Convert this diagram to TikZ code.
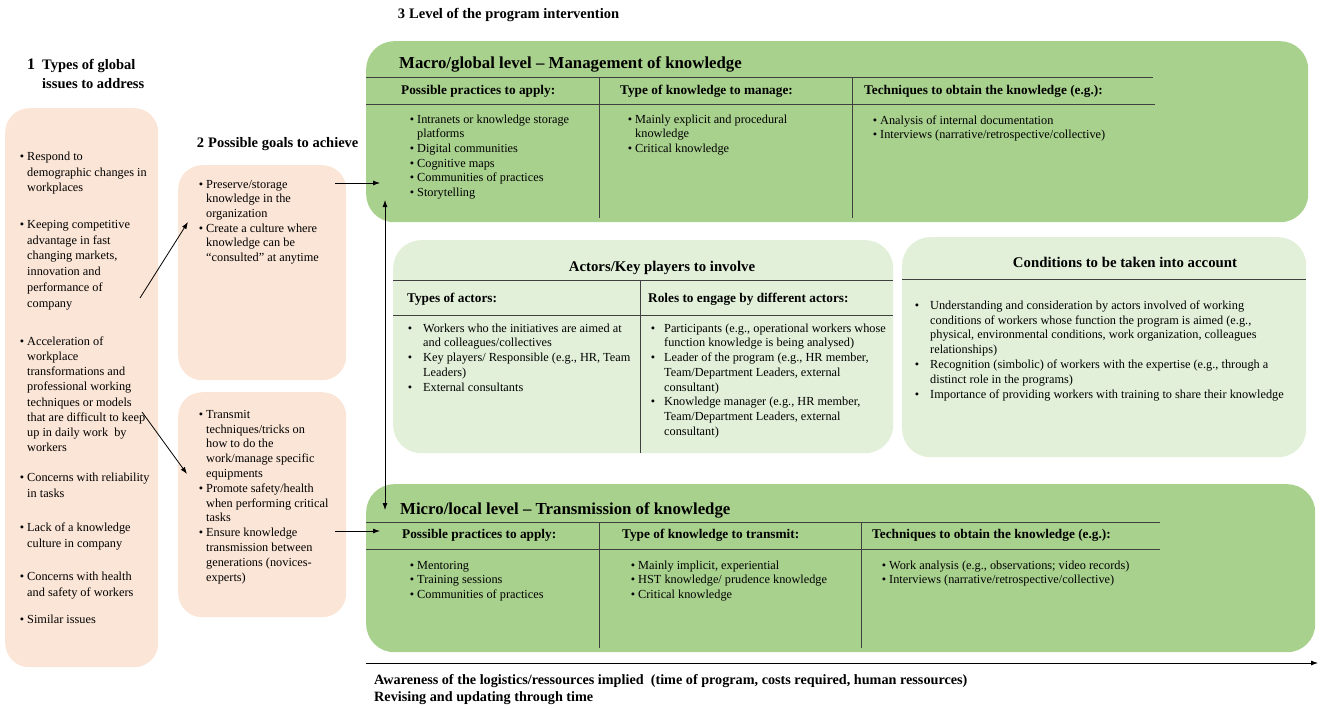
\documentclass[tikz,border=0pt]{standalone}
\usepackage{fontspec}
\setmainfont{Liberation Serif}
\usetikzlibrary{positioning,arrows.meta}

\definecolor{peachfill}{HTML}{FBE5D6}
\definecolor{levelgreen}{HTML}{A9D18E}
\definecolor{palegreen}{HTML}{E2F0D9}
\definecolor{rulegray}{HTML}{404040}

% bullet with a fixed first-line height (10pt above the baseline)
\newcommand{\bul}[1][3pt]{\llap{\rule{0pt}{10pt}\textbullet\hspace{#1}}}

\begin{document}
\begin{tikzpicture}[x=1pt, y=-1pt,
  peachbox/.style={fill=peachfill, rounded corners=24pt, anchor=north west, inner sep=0pt},
  levelbox/.style={fill=levelgreen, rounded corners=28pt, anchor=north west, inner sep=0pt},
  palebox/.style={fill=palegreen, rounded corners=28pt, anchor=north west, inner sep=0pt},
  rule/.style={draw=rulegray, line width=0.8pt},
  txt/.style={font=\fontsize{12.3}{14.6}\selectfont, align=left, inner sep=0pt, anchor=north west},
  colhead/.style={font=\bfseries\fontsize{13.3}{16}\selectfont, inner sep=0pt, anchor=base west},
  boxtitle/.style={font=\bfseries\fontsize{16.8}{20}\selectfont, inner sep=0pt, anchor=base west},
  secttitle/.style={font=\bfseries\fontsize{14.5}{19}\selectfont, align=left, inner sep=0pt, anchor=base west},
  link/.style={-{Latex[length=7pt,width=5pt]}, line width=0.8pt},
  twoway/.style={{Latex[length=7pt,width=5pt]}-{Latex[length=7pt,width=5pt]}, line width=0.8pt},
]
\useasboundingbox (0,0) rectangle (1325,709);

% Section titles
\node[secttitle, anchor=north west] (t1) at (42,57) {\llap{\rule{0pt}{12pt}\fontsize{16}{19}\selectfont 1\hspace{7pt}}Types of global\\issues to address};
\node[secttitle] (t2) at (208,147) {\llap{2\hspace{4pt}}Possible goals to achieve};
\node[secttitle] (t3) at (409,19) {\llap{3\hspace{4pt}}Level of the program intervention};

% Boxes
\node[peachbox, minimum width=153pt, minimum height=559pt] (issues) at (5,108) {};
\node[peachbox, minimum width=168pt, minimum height=215pt] (goalA) at (178,165) {};
\node[peachbox, minimum width=168pt, minimum height=225pt] (goalB) at (178,392) {};
\node[levelbox, minimum width=942pt, minimum height=181pt] (macro) at (366,41) {};
\node[palebox, minimum width=500pt, minimum height=213pt] (actors) at (393,240) {};
\node[palebox, minimum width=404pt, minimum height=220pt] (cond) at (902,237) {};
\node[levelbox, minimum width=949pt, minimum height=168pt] (micro) at (366,484) {};

% Global issues
\node[txt, font=\fontsize{12.3}{15.8}\selectfont] (is1) at (27,150) {\bul Respond to\\demographic changes in\\workplaces};
\node[txt, font=\fontsize{12.3}{15.8}\selectfont] (is2) at (27,218) {\bul Keeping competitive\\advantage in fast\\changing markets,\\innovation and\\performance of\\company};
\node[txt, font=\fontsize{12.3}{15.2}\selectfont] (is3) at (27,335) {\bul Acceleration of\\workplace\\transformations and\\professional working\\techniques or models\\that are difficult to keep\\up in daily work\ \ by\\workers};
\node[txt, font=\fontsize{12.3}{15.8}\selectfont] (is4) at (27,471) {\bul Concerns with reliability\\in tasks};
\node[txt, font=\fontsize{12.3}{15.8}\selectfont] (is5) at (27,521) {\bul Lack of a knowledge\\culture in company};
\node[txt, font=\fontsize{12.3}{15.8}\selectfont] (is6) at (27,570) {\bul Concerns with health\\and safety of workers};
\node[txt] (is7) at (27,613) {\bul Similar issues};

% Goals
\node[txt] (ga) at (206,178) {\bul Preserve/storage\\knowledge in the\\organization\\\bul Create a culture where\\knowledge can be\\``consulted'' at anytime};
\node[txt, font=\fontsize{12.3}{14.8}\selectfont] (gb) at (206,408) {\bul Transmit\\techniques/tricks on\\how to do the\\work/manage specific\\equipments\\\bul Promote safety/health\\when performing critical\\tasks\\\bul Ensure knowledge\\transmission between\\generations (novices-\\experts)};

% Macro level
\node[boxtitle] (macrotitle) at (399,68) {Macro/global\ level -- Management of knowledge};
\draw[rule] (366,77) -- (1153,77);
\draw[rule] (366,104) -- (1155,104);
\draw[rule] (599,77) -- (599,218);
\draw[rule] (852,77) -- (852,218);
\node[colhead] (mh1) at (401,94) {Possible practices to apply:};
\node[colhead] (mh2) at (620,94) {Type of knowledge to manage:};
\node[colhead] (mh3) at (864,94) {Techniques to obtain the knowledge (e.g.):};
\node[txt] (mp) at (417,113) {\bul Intranets or knowledge storage\\platforms\\\bul Digital communities\\\bul Cognitive maps\\\bul Communities of practices\\\bul Storytelling};
\node[txt] (mk) at (635,113) {\bul Mainly explicit and procedural\\knowledge\\\bul Critical knowledge};
\node[txt] (mt) at (880,114) {\bul Analysis of internal documentation\\\bul Interviews (narrative/retrospective/collective)};

% Actors
\node[font=\bfseries\fontsize{14.8}{18}\selectfont, inner sep=0pt, anchor=base] (actorstitle) at (662,271) {Actors/Key players to involve};
\draw[rule] (393,280) -- (893,280);
\draw[rule] (393,315) -- (893,315);
\draw[rule] (640,280) -- (640,453);
\node[colhead] (ah1) at (407,302) {Types of actors:};
\node[colhead] (ah2) at (648,302) {Roles to engage by different actors:};
\node[txt, font=\fontsize{12.3}{14.7}\selectfont] (at) at (423,322) {\bul[11pt]Workers who the initiatives are aimed at\\and colleagues/collectives\\\bul[11pt]Key players/ Responsible (e.g., HR, Team\\Leaders)\\\bul[11pt]External consultants};
\node[txt, font=\fontsize{12.3}{14.7}\selectfont] (ar) at (664,322) {\bul[9pt]Participants (e.g., operational workers whose\\function knowledge is being analysed)\\\bul[9pt]Leader of the program (e.g., HR member,\\Team/Department\ Leaders, external\\consultant)\\\bul[9pt]Knowledge manager (e.g., HR member,\\Team/Department\ Leaders, external\\consultant)};

% Conditions
\node[font=\bfseries\fontsize{14.8}{18}\selectfont, inner sep=0pt, anchor=base] (condtitle) at (1125,267) {Conditions to be taken into account};
\draw[rule] (902,279) -- (1306,279);
\node[txt, font=\fontsize{12.3}{14.8}\selectfont] (cl) at (930,299) {\bul[11pt]Understanding and consideration by actors involved of working\\conditions of workers whose function the program is aimed (e.g.,\\physical,\ environmental conditions, work organization, colleagues\\relationships)\\\bul[11pt]Recognition (simbolic) of workers with the expertise (e.g., through a\\distinct role in the programs)\\\bul[11pt]Importance of providing workers with training to share their knowledge};

% Micro level
\node[boxtitle] (microtitle) at (400,514) {Micro/local\ level -- Transmission\ of knowledge};
\draw[rule] (366,522) -- (1160,522);
\draw[rule] (366,549) -- (1160,549);
\draw[rule] (599,522) -- (599,648);
\draw[rule] (861,522) -- (861,648);
\node[colhead] (uh1) at (402,538) {Possible practices to apply:};
\node[colhead] (uh2) at (622,538) {Type of knowledge to transmit:};
\node[colhead] (uh3) at (872,538) {Techniques to obtain the knowledge (e.g.):};
\node[txt] (up) at (417,559) {\bul Mentoring\\\bul Training sessions\\\bul Communities of practices};
\node[txt] (uk) at (638,559) {\bul Mainly implicit, experiential\\\bul HST knowledge/ prudence knowledge\\\bul Critical knowledge};
\node[txt] (ut) at (889,559) {\bul Work analysis (e.g., observations; video records)\\\bul Interviews (narrative/retrospective/collective)};

% Time line
\coordinate (timeA) at (366,663);
\coordinate (timeB) at (1318,663);
\draw[link] (timeA) -- (timeB);
\node[font=\bfseries\fontsize{14.2}{17}\selectfont, align=left, inner sep=0pt, anchor=north west] (logistics) at (374,673) {\rule{0pt}{11pt}Awareness of the logistics/ressources implied\ \ (time of program, costs required, human ressources)\\Revising and updating through time};

% Connectors
\coordinate (issA) at (140,298);
\coordinate (goalAin) at (188,222);
\coordinate (issB) at (142,412);
\coordinate (goalBin) at (187,474);
\coordinate (goalAout) at (335,183);
\coordinate (macroin) at (380,183);
\coordinate (goalBout) at (335,531);
\coordinate (microin) at (380,531);
\coordinate (macroup) at (385,200);
\coordinate (microdown) at (385,510);
\draw[link] (issA) -- (goalAin);
\draw[link] (issB) -- (goalBin);
\draw[link] (goalAout) -- (macroin);
\draw[link] (goalBout) -- (microin);
\draw[twoway] (macroup) -- (microdown);

\end{tikzpicture}
\end{document}
